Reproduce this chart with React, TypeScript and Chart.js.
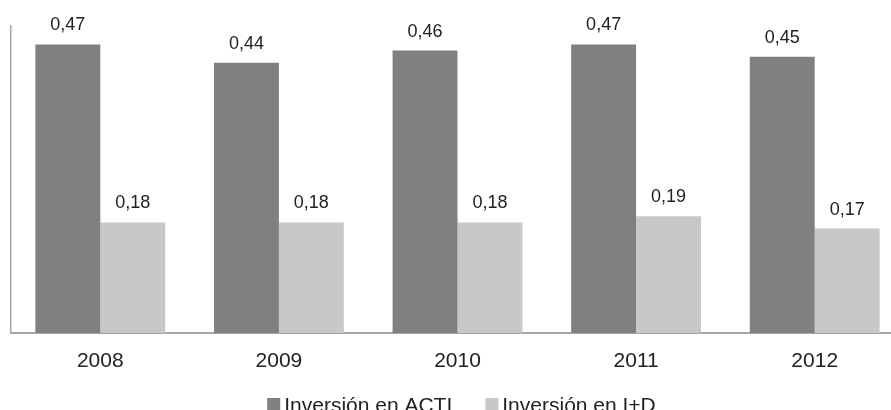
import React, { useEffect, useRef } from "react";
import { Chart, registerables } from "chart.js";

Chart.register(...registerables);

const years = ["2008", "2009", "2010", "2011", "2012"];
const inversionActi = [0.47, 0.44, 0.46, 0.47, 0.45];
const inversionID = [0.18, 0.18, 0.18, 0.19, 0.17];
const seriesNames = ["Inversión en ACTI", "Inversión en I+D"];
const seriesColors = ["#808080", "#c8c8c8"];

const FONT = "'Liberation Sans', Arial, sans-serif";
const TEXT = "#222222";
const AXIS = "#a6a6a6";

const fmt = (v: number) => v.toFixed(2).replace(".", ",");

// Value labels above every bar
const valueLabels = {
  id: "valueLabels",
  afterDatasetsDraw(chart: any) {
    const ctx = chart.ctx;
    ctx.save();
    ctx.font = `18px ${FONT}`;
    ctx.fillStyle = TEXT;
    ctx.textAlign = "center";
    ctx.textBaseline = "alphabetic";
    chart.data.datasets.forEach((ds: any, di: number) => {
      const meta = chart.getDatasetMeta(di);
      meta.data.forEach((el: any, i: number) => {
        ctx.fillText(fmt(ds.data[i]), el.x, el.y - 14);
      });
    });
    ctx.restore();
  },
};

// Legend row under the axis
const bottomLegend = {
  id: "bottomLegend",
  afterDraw(chart: any) {
    const ctx = chart.ctx;
    ctx.save();
    ctx.font = `21px ${FONT}`;
    ctx.textBaseline = "alphabetic";
    ctx.textAlign = "left";
    const box = 13;
    const gap = 4;
    const between = 33;
    const widths = seriesNames.map((n) => ctx.measureText(n).width);
    const total =
      widths.reduce((a, w) => a + box + gap + w, 0) + between * (seriesNames.length - 1);
    const { left, right } = chart.chartArea;
    let x = (left + right) / 2 + 4 - total / 2;
    seriesNames.forEach((name, i) => {
      ctx.fillStyle = seriesColors[i];
      ctx.fillRect(x, 398, box, box);
      x += box + gap;
      ctx.fillStyle = TEXT;
      ctx.fillText(name, x, 412);
      x += widths[i] + between;
    });
    ctx.restore();
  },
};

export default function App() {
  const canvasRef = useRef<HTMLCanvasElement>(null);

  useEffect(() => {
    if (!canvasRef.current) return;
    const chart = new Chart(canvasRef.current, {
      type: "bar",
      data: {
        labels: years,
        datasets: [
          {
            label: seriesNames[0],
            data: inversionActi,
            backgroundColor: seriesColors[0],
            categoryPercentage: 0.727,
            barPercentage: 1,
          },
          {
            label: seriesNames[1],
            data: inversionID,
            backgroundColor: seriesColors[1],
            categoryPercentage: 0.727,
            barPercentage: 1,
          },
        ],
      },
      options: {
        responsive: false,
        animation: false,
        devicePixelRatio: 1,
        layout: { padding: { top: 26, right: 6, left: 0, bottom: 0 } },
        plugins: {
          legend: { display: false },
          tooltip: { enabled: false },
        },
        scales: {
          x: {
            grid: { display: false, drawTicks: false },
            border: { display: true, color: AXIS, width: 2 },
            ticks: {
              color: TEXT,
              font: { family: FONT, size: 21 },
              padding: 16,
            },
            afterFit: (scale: any) => {
              scale.height = 77;
            },
          },
          y: {
            min: 0,
            max: 0.5,
            grid: { display: false, drawTicks: false },
            border: { display: true, color: AXIS, width: 1.5 },
            ticks: { display: false },
            afterFit: (scale: any) => {
              scale.width = 11;
            },
          },
        },
      },
      plugins: [valueLabels, bottomLegend],
    });
    return () => chart.destroy();
  }, []);

  return (
    <div
      style={{
        position: "fixed",
        left: 0,
        top: 0,
        width: 891,
        height: 410,
        overflow: "hidden",
        background: "#ffffff",
      }}
    >
      <canvas ref={canvasRef} width={910} height={410} style={{ display: "block" }} />
    </div>
  );
}
